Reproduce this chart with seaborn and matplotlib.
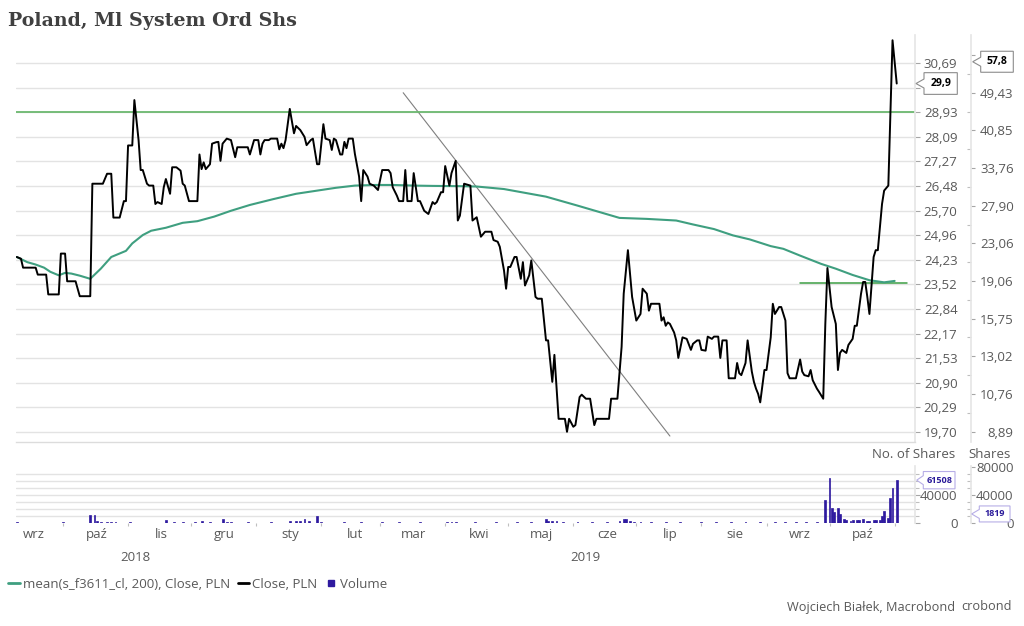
import numpy as np
import pandas as pd
import matplotlib
matplotlib.use("Agg")
import matplotlib.pyplot as plt
import matplotlib.dates as mdates
from matplotlib.patches import Polygon
from matplotlib.lines import Line2D
from matplotlib.transforms import IdentityTransform
from matplotlib.ticker import NullLocator, FixedLocator, NullFormatter
import seaborn as sns

# ---- dane ----
close_dates = [
    "2018-09-09", "2018-09-11", "2018-09-12", "2018-09-18", "2018-09-19", "2018-09-23", "2018-09-24", "2018-09-29", "2018-09-30",
    "2018-10-02", "2018-10-03", "2018-10-07", "2018-10-09", "2018-10-14", "2018-10-15", "2018-10-20", "2018-10-22", "2018-10-24", "2018-10-25", "2018-10-28", "2018-10-30", "2018-10-31",
    "2018-11-01", "2018-11-03", "2018-11-04", "2018-11-06", "2018-11-07", "2018-11-08", "2018-11-10", "2018-11-11", "2018-11-13", "2018-11-14", "2018-11-15", "2018-11-17", "2018-11-18", "2018-11-19", "2018-11-21", "2018-11-22", "2018-11-24", "2018-11-26", "2018-11-27", "2018-11-28", "2018-11-30",
    "2018-12-04", "2018-12-05", "2018-12-06", "2018-12-07", "2018-12-08", "2018-12-10", "2018-12-11", "2018-12-13", "2018-12-14", "2018-12-15", "2018-12-16", "2018-12-18", "2018-12-20", "2018-12-22", "2018-12-23", "2018-12-28", "2018-12-29", "2018-12-31",
    "2019-01-02", "2019-01-03", "2019-01-04", "2019-01-05", "2019-01-07", "2019-01-08", "2019-01-11", "2019-01-12", "2019-01-13", "2019-01-14", "2019-01-15", "2019-01-17", "2019-01-19", "2019-01-20", "2019-01-22", "2019-01-24", "2019-01-25", "2019-01-27", "2019-01-28", "2019-01-30", "2019-01-31",
    "2019-02-02", "2019-02-03", "2019-02-05", "2019-02-06", "2019-02-07", "2019-02-08", "2019-02-10", "2019-02-11", "2019-02-12", "2019-02-13", "2019-02-14", "2019-02-16", "2019-02-17", "2019-02-19", "2019-02-20", "2019-02-21", "2019-02-23", "2019-02-24", "2019-02-26", "2019-02-28",
    "2019-03-02", "2019-03-05", "2019-03-06", "2019-03-07", "2019-03-09", "2019-03-10", "2019-03-12", "2019-03-13", "2019-03-14", "2019-03-16", "2019-03-17", "2019-03-19", "2019-03-20", "2019-03-22", "2019-03-23", "2019-03-24", "2019-03-26", "2019-03-27", "2019-03-28", "2019-03-30", "2019-03-31",
    "2019-04-01", "2019-04-03", "2019-04-04", "2019-04-06", "2019-04-07", "2019-04-08", "2019-04-10", "2019-04-13", "2019-04-14", "2019-04-16", "2019-04-17", "2019-04-18", "2019-04-20", "2019-04-23", "2019-04-24", "2019-04-26", "2019-04-27", "2019-04-29", "2019-04-30",
    "2019-05-01", "2019-05-02", "2019-05-04", "2019-05-05", "2019-05-07", "2019-05-08", "2019-05-09", "2019-05-11", "2019-05-12", "2019-05-14", "2019-05-15", "2019-05-17", "2019-05-19", "2019-05-20", "2019-05-22", "2019-05-23", "2019-05-25", "2019-05-28", "2019-05-29", "2019-05-30",
    "2019-06-01", "2019-06-02", "2019-06-04", "2019-06-05", "2019-06-07", "2019-06-09", "2019-06-11", "2019-06-12", "2019-06-18", "2019-06-19", "2019-06-22", "2019-06-24", "2019-06-25", "2019-06-27", "2019-06-29",
    "2019-07-01", "2019-07-03", "2019-07-04", "2019-07-06", "2019-07-07", "2019-07-08", "2019-07-12", "2019-07-13", "2019-07-14", "2019-07-15", "2019-07-16", "2019-07-17", "2019-07-19", "2019-07-20", "2019-07-21", "2019-07-23", "2019-07-25", "2019-07-27", "2019-07-28", "2019-07-30", "2019-07-31",
    "2019-08-01", "2019-08-03", "2019-08-04", "2019-08-06", "2019-08-07", "2019-08-09", "2019-08-10", "2019-08-11", "2019-08-13", "2019-08-14", "2019-08-17", "2019-08-18", "2019-08-19", "2019-08-20", "2019-08-22", "2019-08-23", "2019-08-25", "2019-08-26", "2019-08-27", "2019-08-28", "2019-08-29", "2019-08-31",
    "2019-09-01", "2019-09-03", "2019-09-04", "2019-09-05", "2019-09-07", "2019-09-08", "2019-09-10", "2019-09-11", "2019-09-12", "2019-09-15", "2019-09-17", "2019-09-18", "2019-09-19", "2019-09-21", "2019-09-22", "2019-09-23", "2019-09-25", "2019-09-26", "2019-09-28", "2019-09-29", "2019-09-30",
    "2019-10-02", "2019-10-04", "2019-10-05", "2019-10-06", "2019-10-07", "2019-10-09", "2019-10-10", "2019-10-12", "2019-10-13", "2019-10-14", "2019-10-16", "2019-10-17", "2019-10-18", "2019-10-19", "2019-10-20", "2019-10-22", "2019-10-23", "2019-10-24", "2019-10-26", "2019-10-27", "2019-10-29", "2019-10-30", "2019-10-31",
    "2019-11-02",
]
close_values = [
    24.31, 24.26, 24.00, 24.00, 23.80, 23.80, 23.24, 23.24, 24.41,
    24.41, 23.61, 23.61, 23.19, 23.19, 26.55, 26.55, 26.87, 26.87, 25.49, 25.49, 26.00, 26.00,
    27.80, 27.80, 29.36, 27.98, 26.99, 26.99, 26.55, 26.49, 26.49, 25.91, 25.97, 25.91, 26.44, 26.70, 26.23, 27.08, 27.08, 26.97, 26.55, 26.49, 26.00,
    26.00, 27.50, 27.02, 27.24, 27.02, 27.18, 27.86, 27.91, 27.92, 27.29, 27.86, 28.03, 27.98, 27.41, 27.74, 27.74, 27.50, 27.98,
    27.98, 27.50, 27.86, 27.98, 27.98, 28.03, 28.03, 27.67, 27.86, 27.71, 27.98, 29.05, 28.21, 28.46, 28.32, 28.09, 27.81, 27.98, 28.03, 27.18, 27.18,
    28.52, 28.03, 27.98, 27.65, 28.03, 27.98, 27.50, 27.50, 27.92, 27.71, 28.03, 28.03, 27.52, 26.78, 26.00, 26.99, 26.78, 26.55, 26.49, 26.35,
    26.99, 26.99, 26.89, 26.44, 26.17, 26.00, 26.00, 26.99, 26.00, 26.00, 26.89, 26.00, 26.00, 25.70, 25.65, 25.60, 25.97, 25.91, 25.97, 26.28, 26.28,
    27.12, 26.49, 26.89, 27.29, 25.40, 25.55, 26.55, 26.49, 25.40, 25.50, 25.21, 24.91, 25.06, 25.06, 24.81, 24.76, 24.61, 23.92, 23.40,
    24.02, 24.02, 24.31, 24.31, 23.68, 24.16, 23.49, 23.78, 24.21, 23.17, 23.12, 23.12, 21.99, 21.99, 20.92, 21.61, 20.01, 20.01, 19.70, 20.01,
    19.82, 19.86, 20.54, 20.60, 20.50, 20.50, 19.86, 20.01, 20.01, 20.50, 20.50, 21.82, 23.26, 24.51, 23.17,
    22.52, 22.70, 23.40, 23.26, 22.79, 22.98, 22.98, 22.52, 22.61, 22.38, 22.47, 22.43, 22.20, 21.99, 21.53, 22.07, 22.03, 21.74, 21.90, 21.99, 21.99,
    21.74, 21.72, 22.09, 22.03, 22.09, 22.09, 21.53, 21.99, 21.99, 21.01, 21.01, 21.40, 21.14, 21.09, 21.40, 21.99, 21.18, 20.92, 20.75, 20.62, 20.41, 21.22,
    21.22, 22.07, 22.98, 22.70, 22.89, 22.89, 22.52, 21.14, 21.01, 21.01, 21.49, 21.18, 21.09, 21.06, 21.22, 20.96, 20.75, 20.67, 20.50, 22.43, 23.99,
    22.89, 22.43, 21.22, 21.66, 21.74, 21.66, 21.87, 22.03, 22.38, 22.38, 23.26, 23.59, 23.59, 23.17, 22.70, 24.31, 24.51, 24.51, 25.91, 26.33, 26.49, 28.91, 31.55,
    29.95,
]

ma_dates = [
    "2018-09-09", "2018-09-14", "2018-09-18", "2018-09-22", "2018-09-25", "2018-09-29", "2018-10-02", "2018-10-05", "2018-10-09",
    "2018-10-14", "2018-10-19", "2018-10-24", "2018-10-31", "2018-11-03", "2018-11-08", "2018-11-12", "2018-11-19", "2018-11-27",
    "2018-12-04", "2018-12-12", "2018-12-20", "2018-12-29", "2019-01-09", "2019-01-20", "2019-01-30", "2019-02-08", "2019-02-17",
    "2019-02-27", "2019-03-07", "2019-03-17", "2019-03-26", "2019-04-10", "2019-04-16", "2019-04-29", "2019-05-19", "2019-06-03",
    "2019-06-23", "2019-07-06", "2019-07-20", "2019-07-28", "2019-08-07", "2019-08-16", "2019-08-24", "2019-09-03", "2019-09-09",
    "2019-09-17", "2019-09-27", "2019-10-04", "2019-10-12", "2019-10-20", "2019-10-27", "2019-11-01",
]
ma_values = [
    24.31, 24.16, 24.09, 24.00, 23.88, 23.78, 23.85, 23.83, 23.77,
    23.68, 23.97, 24.31, 24.49, 24.71, 24.96, 25.09, 25.18, 25.33,
    25.38, 25.52, 25.70, 25.88, 26.06, 26.23, 26.33, 26.42, 26.49,
    26.51, 26.51, 26.49, 26.48, 26.47, 26.46, 26.38, 26.14, 25.86,
    25.48, 25.45, 25.40, 25.28, 25.14, 24.95, 24.83, 24.63, 24.55,
    24.35, 24.11, 23.97, 23.79, 23.64, 23.58, 23.62,
]

vol_dates = [
    "2018-09-09", "2018-10-01", "2018-10-14", "2018-10-16", "2018-10-17", "2018-10-19", "2018-10-22", "2018-10-24", "2018-10-26",
    "2018-11-02", "2018-11-19", "2018-11-23", "2018-11-27", "2018-12-03", "2018-12-06", "2018-12-10", "2018-12-16", "2018-12-18",
    "2018-12-20", "2018-12-28", "2019-01-08", "2019-01-17", "2019-01-20", "2019-01-22", "2019-01-24", "2019-01-26", "2019-01-30",
    "2019-02-01", "2019-02-12", "2019-02-20", "2019-03-02", "2019-03-10", "2019-03-20", "2019-04-02", "2019-04-04", "2019-04-06",
    "2019-04-15", "2019-04-25", "2019-05-05", "2019-05-12", "2019-05-19", "2019-05-20", "2019-05-22", "2019-05-24", "2019-05-27",
    "2019-06-03", "2019-06-10", "2019-06-17", "2019-06-23", "2019-06-25", "2019-06-26", "2019-06-28", "2019-06-30", "2019-07-03",
    "2019-07-08", "2019-07-15", "2019-07-22", "2019-08-01", "2019-08-08", "2019-08-15", "2019-08-22", "2019-08-29", "2019-09-05",
    "2019-09-10", "2019-09-15", "2019-09-20", "2019-09-25", "2019-09-29", "2019-10-01", "2019-10-02", "2019-10-03", "2019-10-05",
    "2019-10-06", "2019-10-08", "2019-10-09", "2019-10-11", "2019-10-12", "2019-10-14", "2019-10-15", "2019-10-17", "2019-10-19",
    "2019-10-20", "2019-10-22", "2019-10-23", "2019-10-25", "2019-10-26", "2019-10-27", "2019-10-29", "2019-10-30", "2019-10-31",
    "2019-11-02",
]
vol_values = [
    1500, 1500, 11500, 10500, 1800, 1500, 1500, 1200, 1200,
    1000, 3900, 1500, 1500, 1500, 2900, 1500, 4800, 1500,
    1500, 1200, 1200, 2900, 2900, 2900, 4800, 2900, 9600,
    1500, 1000, 1200, 1500, 1200, 1200, 1500, 1500, 1500,
    1000, 1000, 1000, 1500, 4800, 2900, 1800, 1800, 1500,
    1500, 1200, 1200, 2900, 4800, 4800, 2900, 1500, 1500,
    1200, 1200, 1000, 1000, 1500, 1000, 1200, 1200, 1200,
    1500, 1200, 1500, 1200, 32700, 64000, 21600, 15000, 20700,
    12500, 4900, 3900, 3000, 3900, 3900, 3900, 4900, 3000,
    3000, 3900, 3900, 3900, 10000, 16800, 6300, 35100, 50400,
    61508,
]
assert len(close_dates) == len(close_values)
assert len(ma_dates) == len(ma_values)
assert len(vol_dates) == len(vol_values)

trend_dates = ["2019-03-12", "2019-07-17"]
trend_values = [29.62, 19.60]
resistance_level = 28.93
support_level = 23.57
support_span = ["2019-09-17", "2019-11-07"]

inner_ticks = [19.70, 20.29, 20.90, 21.53, 22.17, 22.84, 23.52, 24.23, 24.96, 25.70,
               26.48, 27.27, 28.09, 28.93, 29.80, 30.69]
outer_ticks = [8.89, 10.76, 13.02, 15.75, 19.06, 23.06, 27.90, 33.76, 40.85, 49.43, 59.81]
vol_grid = [10000, 20000, 30000, 40000, 50000, 60000, 70000]

month_labels = ["wrz", "paź", "lis", "gru", "sty", "lut", "mar", "kwi", "maj", "cze", "lip", "sie", "wrz", "paź"]
month_label_dates = ["2018-09-17", "2018-10-17", "2018-11-17", "2018-12-17", "2019-01-17", "2019-02-17", "2019-03-17",
                     "2019-04-17", "2019-05-17", "2019-06-17", "2019-07-17", "2019-08-17", "2019-09-17", "2019-10-17"]
month_starts = ["2018-10-01", "2018-11-01", "2018-12-01", "2019-01-01", "2019-02-01", "2019-03-01", "2019-04-01",
                "2019-05-01", "2019-06-01", "2019-07-01", "2019-08-01", "2019-09-01", "2019-10-01", "2019-11-01"]

last_close_label = "29,9"
last_outer_label = "57,8"
last_outer_value = 57.8
last_vol_label = "61508"
last_vol_value = 61508
outer_vol_label = "1819"
outer_vol_value = 1819

# ---- wygląd ----
MA_COLOR = "#3f9f80"
LEVEL_COLOR = "#6cb86f"
VOL_COLOR = "#2e1a9f"
TXT = "#595959"
GRID = "#e3e3e3"

sns.set_theme(style="white")
plt.rcParams["font.family"] = ["Open Sans", "DejaVu Sans"]

W, H = 1024, 626
fig = plt.figure(figsize=(W / 100, H / 100), dpi=100)
fig.patch.set_facecolor("white")


def px_rect(l, t, r, b):
    return [l / W, 1 - b / H, (r - l) / W, (b - t) / H]


ax = fig.add_axes(px_rect(15.5, 35, 915, 442))
axv = fig.add_axes(px_rect(15.5, 466, 915, 522.7), sharex=ax)
# osie zewnętrzne (twinx przestawia osie bazowe na lewo, więc ustawiamy je potem)
ax2 = ax.twinx()
axv2 = axv.twinx()

price = pd.DataFrame({"date": pd.to_datetime(close_dates), "close": close_values})
mean200 = pd.DataFrame({"date": pd.to_datetime(ma_dates), "mean": ma_values})
volume = pd.DataFrame({"date": pd.to_datetime(vol_dates), "volume": vol_values})

sns.lineplot(data=mean200, x="date", y="mean", ax=ax, color=MA_COLOR, linewidth=1.5, estimator=None, zorder=3)
sns.lineplot(data=price, x="date", y="close", ax=ax, color="black", linewidth=1.4, estimator=None, zorder=4)
ax.plot(pd.to_datetime(trend_dates), trend_values, color="#7f7f7f", lw=0.8, zorder=2)
ax.axhline(resistance_level, color=LEVEL_COLOR, lw=1.3, zorder=2)
ax.plot(pd.to_datetime(support_span), [support_level, support_level], color="#3d9e44", lw=1.1, zorder=2)

ax.set_yscale("log")
ax.set_ylim(19.46, 31.75)
x0 = pd.Timestamp("2018-09-08 09:36")
x1 = pd.Timestamp("2019-11-10 16:48")
ax.set_xlim(x0, x1)
ax.set(xlabel="", ylabel="")

ax.yaxis.tick_right()
ax.set_yticks(inner_ticks)
ax.set_yticklabels(["" if v == 29.80 else f"{v:.2f}".replace(".", ",") for v in inner_ticks])
ax.yaxis.set_minor_locator(NullLocator())
ax.tick_params(axis="y", which="major", right=True, left=False, labelright=True, labelleft=False,
               length=3.6, width=0.8, color="#a6a6a6", direction="out", pad=27, labelsize=9.5, labelcolor=TXT)
ax.tick_params(axis="x", which="both", bottom=False, labelbottom=False)
ax.grid(axis="y", which="major", color=GRID, lw=1.0)
ax.grid(axis="x", visible=False)
ax.set_axisbelow(True)
for s in ["left", "top"]:
    ax.spines[s].set_visible(False)
ax.spines["right"].set_color("#e6e6e6")
ax.spines["bottom"].set_color("#dcdcdc")
ax.spines["bottom"].set_linewidth(1.0)

# zewnętrzna oś ceny
ax2.set_yscale("log")
ax2.set_ylim(8.4385, 66.18)
ax2.set_yticks(outer_ticks)
ax2.set_yticklabels(["" if v == 59.81 else f"{v:.2f}".replace(".", ",") for v in outer_ticks])
mids = [np.sqrt(a * b) for a, b in zip(outer_ticks[:-1], outer_ticks[1:])]
ax2.yaxis.set_minor_locator(FixedLocator(mids))
ax2.yaxis.set_minor_formatter(NullFormatter())
ax2.spines["right"].set_position(("outward", 40))
ax2.spines["right"].set_color("#e6e6e6")
for s in ["left", "top", "bottom"]:
    ax2.spines[s].set_visible(False)
ax2.tick_params(axis="y", which="major", length=3, width=0.8, color="#a6a6a6", direction="out", pad=28,
                labelsize=9.5, labelcolor=TXT)
ax2.tick_params(axis="y", which="minor", length=3, width=0.8, color="#bfbfbf", direction="in")
ax2.grid(False)

# wolumen
axv.bar(volume["date"], volume["volume"], width=0.9, color=VOL_COLOR, edgecolor=VOL_COLOR, linewidth=0.5, zorder=3)
axv.set_ylim(0, 82000)
axv.set(xlabel="", ylabel="")
for g in vol_grid:
    axv.axhline(g, color=GRID, lw=1.0, zorder=0)
axv.yaxis.tick_right()
axv.set_yticks([0, 40000])
axv.set_yticklabels(["0", "40000"])
axv.yaxis.set_minor_locator(FixedLocator(vol_grid))
axv.tick_params(axis="y", which="major", right=True, left=False, labelright=True, labelleft=False,
                length=3.6, width=0.8, color="#a6a6a6", direction="out", pad=27, labelsize=9.5, labelcolor=TXT)
axv.tick_params(axis="y", which="minor", right=True, left=False, length=3, width=0.8, color="#bfbfbf", direction="out")
for s in ["left", "top", "bottom"]:
    axv.spines[s].set_visible(False)
axv.spines["right"].set_color("#e6e6e6")
axv.grid(False)

axv2.set_ylim(0, 82000)
axv2.set_yticks([0, 40000, 80000])
axv2.set_yticklabels(["0", "40000", "80000"])
axv2.yaxis.set_minor_locator(FixedLocator(vol_grid))
axv2.spines["right"].set_position(("outward", 40))
axv2.spines["right"].set_color("#e6e6e6")
for s in ["left", "top", "bottom"]:
    axv2.spines[s].set_visible(False)
axv2.tick_params(axis="y", which="major", length=3, width=0.8, color="#a6a6a6", direction="out", pad=28,
                 labelsize=9.5, labelcolor=TXT)
axv2.tick_params(axis="y", which="minor", length=3, width=0.8, color="#bfbfbf", direction="in")
axv2.grid(False)

# oś czasu
axv.set_xticks(pd.to_datetime(month_label_dates))
axv.set_xticklabels(month_labels)
axv.xaxis.set_minor_locator(FixedLocator(mdates.date2num(pd.to_datetime(month_starts))))
axv.tick_params(axis="x", which="major", bottom=True, length=0, pad=3.8, labelsize=9.5, labelcolor=TXT)
axv.tick_params(axis="x", which="minor", bottom=True, length=2.5, width=0.8, color="#bfbfbf")
axv.set_xlim(x0, x1)

jan1 = mdates.date2num(pd.Timestamp("2019-01-01"))
xl = axv.get_xlim()
for xc, yr in [((xl[0] + jan1) / 2, "2018"), ((jan1 + xl[1]) / 2, "2019")]:
    axv.text(xc, -0.62, yr, transform=axv.get_xaxis_transform(), ha="center", va="center", fontsize=9.5, color=TXT)

# prawe etykiety wartości, wyrównane do prawej
for a in [ax, ax2, axv, axv2]:
    for t in a.get_yticklabels():
        t.set_horizontalalignment("right")


def value_tag(axis, value, text, tip_x, notch_w, body_w, body_h, edge, txt_color, fs, dy=0.0):
    y = axis.transData.transform((axis.get_xlim()[0], value))[1] + dy
    xb = tip_x + notch_w
    pts = [(tip_x, y), (xb, y + 4.5), (xb, y + body_h / 2), (xb + body_w, y + body_h / 2),
           (xb + body_w, y - body_h / 2), (xb, y - body_h / 2), (xb, y - 4.5)]
    fig.add_artist(Polygon(pts, closed=True, transform=IdentityTransform(), facecolor="white",
                           edgecolor=edge, lw=0.8, zorder=5))
    fig.text(xb + body_w / 2, y, text, transform=IdentityTransform(), ha="center", va="center",
             fontsize=fs, weight="bold", color=txt_color, zorder=6)


value_tag(ax, close_values[-1], last_close_label, 916, 8, 33.3, 21.7, "#8c8c8c", "black", 7.5)
value_tag(ax2, last_outer_value, last_outer_label, 972.7, 8, 32.6, 21, "#8c8c8c", "black", 7.5)
value_tag(axv, last_vol_value, last_vol_label, 916.7, 6.6, 31.7, 17.3, "#b7aee6", "#2a1a9a", 6.5)
value_tag(axv2, outer_vol_value, outer_vol_label, 971.7, 7.6, 30.7, 16, "#b7aee6", "#2a1a9a", 6.5, dy=7.5)

# teksty
fig.text(8 / W, 1 - 26 / H, "Poland, Ml System Ord Shs", ha="left", va="baseline",
         family="DejaVu Serif", weight="bold", fontsize=13.7, color="#404040")
fig.text(955 / W, 1 - 455 / H, "No. of Shares", ha="right", va="center", fontsize=9.5, color=TXT)
fig.text(1011 / W, 1 - 455 / H, "Shares", ha="right", va="center", fontsize=9.5, color=TXT)
fig.text(955 / W, 1 - 607 / H, "Wojciech Białek, Macrobond", ha="right", va="center", fontsize=9.2, color=TXT)
fig.text(1012 / W, 1 - 607 / H, "crobond", ha="right", va="center", fontsize=9.2, color=TXT)

handles = [Line2D([], [], color=MA_COLOR, lw=2),
           Line2D([], [], color="black", lw=2),
           Line2D([], [], marker="s", ls="none", color=VOL_COLOR, markersize=5)]
labels = ["mean(s_f3611_cl, 200), Close, PLN", "Close, PLN", "Volume"]
fig.legend(handles, labels, loc="center left", bbox_to_anchor=(8 / W, 1 - 584 / H), ncol=3, frameon=False,
           handlelength=0.9, handletextpad=0.2, columnspacing=0.6, borderpad=0, borderaxespad=0,
           labelcolor=TXT, fontsize=9.5)

fig.savefig("out.png", dpi=100, facecolor="white")
